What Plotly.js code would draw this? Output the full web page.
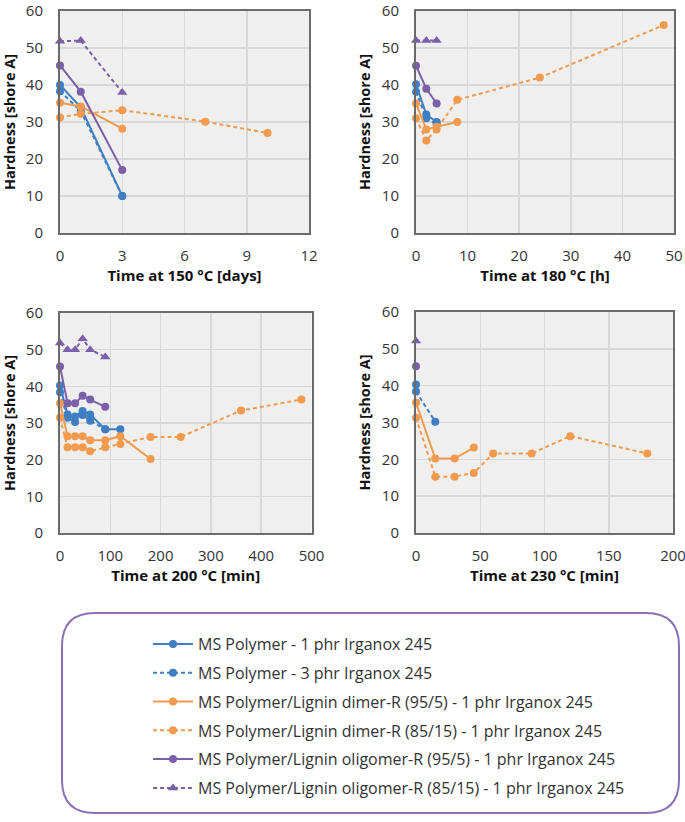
<!DOCTYPE html>
<html>
<head>
<meta charset="utf-8">
<script src="https://cdn.plot.ly/plotly-3.0.1.min.js"></script>
<style>
  html, body { margin: 0; padding: 0; background: #fff; }
  #chart { width: 685px; height: 822px; }
</style>
</head>
<body>
<div id="chart"></div>
<script>
// series (legend order)
var seriesNames = [
  "MS Polymer - 1 phr Irganox 245",
  "MS Polymer - 3 phr Irganox 245",
  "MS Polymer/Lignin dimer-R (95/5) - 1 phr Irganox 245",
  "MS Polymer/Lignin dimer-R (85/15) - 1 phr Irganox 245",
  "MS Polymer/Lignin oligomer-R (95/5) - 1 phr Irganox 245",
  "MS Polymer/Lignin oligomer-R (85/15) - 1 phr Irganox 245"
];

// 150 °C, days
var x150 = [[0, 1, 3], [0, 1, 3], [0, 1, 3], [0, 1, 3, 7, 10], [0, 1, 3], [0, 1, 3]];
var y150 = [[40, 34, 10], [38.3, 33, 10], [35.2, 34.2, 28.2], [31.2, 32.2, 33.2, 30.1, 27], [45.3, 38.2, 17], [51.8, 52, 38]];

// 180 °C, h
var x180 = [[0, 2, 4], [0, 2, 4], [0, 2, 4, 8], [0, 2, 4, 8, 24, 48], [0, 2, 4], [0, 2, 4]];
var y180 = [[40.2, 32, 30], [38.2, 31, 29.5], [35, 28, 28.7, 30], [31, 25, 28, 36, 42, 56.2], [45.2, 39, 35], [52, 52, 52]];

// 200 °C, min
var x200 = [
  [0, 15, 30, 45, 60, 90, 120],
  [0, 15, 30, 45, 60, 90],
  [0, 15, 30, 45, 60, 90, 120, 180],
  [0, 15, 30, 45, 60, 90, 120, 180, 240, 360, 480],
  [0, 15, 30, 45, 60, 90],
  [0, 15, 30, 45, 60, 90]
];
var y200 = [
  [40.2, 32.3, 31.8, 33.3, 32.3, 28.3, 28.3],
  [38.4, 31.4, 30.3, 32.2, 30.6, 28.3],
  [35.4, 26.4, 26.4, 26.4, 25.3, 25.3, 26.4, 20.2],
  [31.4, 23.4, 23.4, 23.4, 22.3, 23.4, 24.3, 26.2, 26.2, 33.4, 36.4],
  [45.4, 35.4, 35.4, 37.4, 36.4, 34.4],
  [51.8, 50, 50, 53, 50, 48]
];

// 230 °C, min
var x230 = [[0], [0, 15], [0, 15, 30, 45], [0, 15, 30, 45, 60, 90, 120, 180], [0], [0]];
var y230 = [[40.3], [38.4, 30.2], [35.4, 20.2, 20.2, 23.2], [31.3, 15.3, 15.3, 16.3, 21.6, 21.6, 26.3, 21.6], [45.3], [52.1]];

var blue = "#3f7ec2", orange = "#f29b4e", purple = "#7a60a8";
var seriesColors = [blue, blue, orange, orange, purple, purple];
var seriesDash = ["solid", "4px,3px", "solid", "4px,3px", "solid", "4px,3px"];
var seriesSymbol = ["circle", "circle", "circle", "circle", "circle", "triangle-up"];

var font = "'Open Sans', 'Noto Sans', sans-serif";
var W = 685, H = 822;
function px(v) { return v / W; }
function py(v) { return 1 - v / H; }

var panels = [
  {xs: x150, ys: y150, ax: ""},
  {xs: x180, ys: y180, ax: "2"},
  {xs: x200, ys: y200, ax: "3"},
  {xs: x230, ys: y230, ax: "4"}
];

var data = [];
panels.forEach(function (p, pi) {
  for (var i = 0; i < seriesNames.length; i++) {
    data.push({
      x: p.xs[i],
      y: p.ys[i],
      xaxis: "x" + p.ax,
      yaxis: "y" + p.ax,
      type: "scatter",
      mode: "lines+markers",
      name: seriesNames[i],
      legendgroup: "s" + i,
      showlegend: pi === 0,
      cliponaxis: false,
      line: {color: seriesColors[i], width: 2, dash: seriesDash[i]},
      marker: {color: seriesColors[i], symbol: seriesSymbol[i], size: seriesSymbol[i] === "circle" ? 8 : 9}
    });
  }
});

function xAx(dom, rng, dt, title) {
  return {
    domain: dom, range: rng, dtick: dt, tick0: 0,
    showline: true, mirror: true, linecolor: "#6b6b6b", linewidth: 2,
    showgrid: true, gridcolor: "#d8d8d8", gridwidth: 1.5, zeroline: false,
    ticks: "", ticklabelstandoff: 8, ticklabeloverflow: "allow", automargin: false,
    tickfont: {family: font, size: 15, color: "#333"},
    title: {text: title, standoff: 5, font: {family: font, size: 15, color: "#111", weight: "bold"}},
    fixedrange: true
  };
}
function yAx(dom, anchor) {
  return {
    domain: dom, range: [0, 60], dtick: 10, anchor: anchor,
    showline: true, mirror: true, linecolor: "#6b6b6b", linewidth: 2,
    showgrid: true, gridcolor: "#d8d8d8", gridwidth: 1.5, zeroline: false,
    ticks: "", ticklabelstandoff: 12, ticklabeloverflow: "allow", automargin: false,
    tickfont: {family: font, size: 15, color: "#333"},
    title: {text: "Hardness [shore A]", standoff: 8, font: {family: font, size: 14.5, color: "#111", weight: "bold"}},
    fixedrange: true
  };
}

var rx = 33 / W, ry = 33 / H;
var bx0 = px(62), bx1 = px(679), by0 = py(813), by1 = py(613);
var boxPath = "M" + (bx0 + rx) + "," + by1 +
  " L" + (bx1 - rx) + "," + by1 + " Q" + bx1 + "," + by1 + " " + bx1 + "," + (by1 - ry) +
  " L" + bx1 + "," + (by0 + ry) + " Q" + bx1 + "," + by0 + " " + (bx1 - rx) + "," + by0 +
  " L" + (bx0 + rx) + "," + by0 + " Q" + bx0 + "," + by0 + " " + bx0 + "," + (by0 + ry) +
  " L" + bx0 + "," + (by1 - ry) + " Q" + bx0 + "," + by1 + " " + (bx0 + rx) + "," + by1 + " Z";

var layout = {
  width: W, height: H,
  margin: {l: 0, r: 0, t: 0, b: 0},
  paper_bgcolor: "#fff",
  plot_bgcolor: "#efefef",
  font: {family: font, color: "#333"},
  xaxis: xAx([px(60), px(309)], [0, 12], 3, "Time at 150 °C [days]"),
  yaxis: yAx([py(233), py(11)], "x"),
  xaxis2: Object.assign(xAx([px(416), px(674)], [0, 50], 10, "Time at 180 °C [h]"), {anchor: "y2"}),
  yaxis2: yAx([py(233), py(11)], "x2"),
  xaxis3: Object.assign(xAx([px(60), px(311.5)], [0, 500], 100, "Time at 200 °C [min]"), {anchor: "y3"}),
  yaxis3: yAx([py(533), py(313)], "x3"),
  xaxis4: Object.assign(xAx([px(416), px(673)], [0, 200], 50, "Time at 230 °C [min]"), {anchor: "y4"}),
  yaxis4: yAx([py(533), py(312)], "x4"),
  showlegend: true,
  legend: {
    x: px(148), xanchor: "left",
    y: py(627), yanchor: "top",
    bgcolor: "rgba(0,0,0,0)",
    font: {family: font, size: 16, color: "#333"},
    tracegroupgap: 5,
    itemwidth: 40,
    itemclick: false, itemdoubleclick: false
  },
  shapes: [{
    type: "path", xref: "paper", yref: "paper",
    path: boxPath,
    line: {color: "#8c70b4", width: 2},
    fillcolor: "rgba(0,0,0,0)"
  }]
};

Plotly.newPlot("chart", data, layout, {displayModeBar: false, staticPlot: true});
</script>
</body>
</html>
